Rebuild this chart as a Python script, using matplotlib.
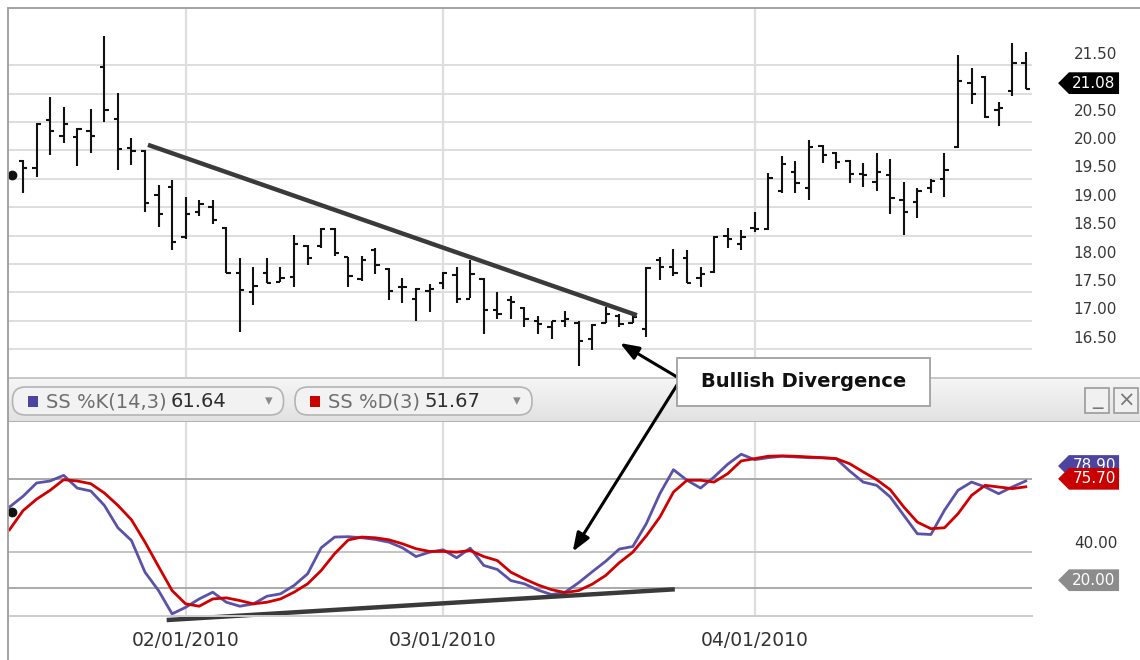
import numpy as np
import pandas as pd
import matplotlib
matplotlib.use("Agg")
import matplotlib.pyplot as plt
from matplotlib.path import Path
from matplotlib.patches import FancyBboxPatch, Rectangle, ConnectionPatch
from matplotlib.colors import LinearSegmentedColormap

# trading days shown (Jan 13 - Apr 30, 2010)
holidays = ["2010-01-18", "2010-02-15", "2010-04-02"]
dates = pd.bdate_range("2010-01-13", "2010-04-30")
dates = dates[~dates.isin(pd.to_datetime(holidays))]

opens = [19.82, 19.70, 20.54, 20.26, 20.24, 20.34, 21.47, 20.56, 20.05, 19.99,
         19.22, 19.35, 18.48, 18.91, 19.01, 18.63, 17.84, 17.51, 17.84, 17.69,
         17.78, 18.32, 18.31, 18.61, 18.12, 17.73, 18.24, 17.91, 17.59, 17.38,
         17.53, 17.66, 17.80, 17.39, 17.73, 17.19, 17.37, 17.22, 17.00, 16.89,
         17.00, 16.97, 16.68, 16.96, 17.08, 16.97, 16.86, 18.07, 17.95, 18.10,
         17.75, 17.86, 18.49, 18.36, 18.63, 18.61, 19.28, 19.63, 19.34, 20.08,
         19.95, 19.81, 19.59, 19.45, 19.57, 19.13, 19.10, 19.34, 19.49, 20.06,
         21.19, 21.29, 20.71, 21.04, 21.54]
highs = [19.84, 20.48, 20.95, 20.76, 20.39, 20.73, 22.01, 21.02, 20.22, 20.01,
         19.39, 19.48, 19.19, 19.13, 19.13, 18.66, 18.10, 17.95, 18.10, 17.95,
         18.51, 18.34, 18.63, 18.64, 18.13, 18.14, 18.29, 17.93, 17.76, 17.58,
         17.65, 17.86, 17.95, 18.08, 17.76, 17.50, 17.44, 17.24, 17.09, 17.00,
         17.18, 17.00, 16.94, 17.25, 17.12, 17.13, 17.94, 18.13, 18.26, 18.25,
         17.95, 18.49, 18.63, 18.60, 18.92, 19.60, 19.91, 19.81, 20.19, 20.10,
         19.98, 19.84, 19.78, 19.95, 19.85, 19.44, 19.34, 19.49, 19.95, 21.69,
         21.45, 21.32, 20.86, 21.89, 21.73]
lows = [19.25, 19.54, 19.92, 20.13, 19.72, 19.95, 20.51, 19.66, 19.74, 18.92,
        18.66, 18.25, 18.45, 18.84, 18.71, 17.84, 16.81, 17.28, 17.66, 17.68,
        17.60, 17.98, 18.29, 18.14, 17.59, 17.70, 17.82, 17.37, 17.32, 16.99,
        17.15, 17.56, 17.32, 17.41, 16.77, 17.03, 17.03, 16.89, 16.77, 16.68,
        16.89, 16.21, 16.48, 16.96, 16.89, 16.96, 16.72, 17.72, 17.79, 17.67,
        17.60, 17.84, 18.28, 18.25, 18.57, 18.60, 19.25, 19.25, 19.13, 19.78,
        19.67, 19.42, 19.36, 19.28, 18.89, 18.51, 18.82, 19.25, 19.19, 20.04,
        20.81, 20.57, 20.44, 20.96, 21.08]
closes = [19.70, 20.47, 20.34, 20.46, 20.38, 20.26, 20.71, 20.03, 19.99, 19.08,
          18.89, 18.39, 18.89, 19.06, 18.78, 17.84, 17.54, 17.61, 17.66, 17.75,
          18.35, 18.11, 18.61, 18.20, 17.79, 18.08, 17.99, 17.53, 17.60, 17.56,
          17.57, 17.85, 17.39, 17.83, 17.19, 17.13, 17.33, 17.03, 16.94, 16.99,
          17.03, 16.65, 16.92, 17.13, 16.95, 17.07, 17.93, 17.95, 17.84, 17.67,
          17.82, 18.48, 18.45, 18.48, 18.61, 19.51, 19.76, 19.42, 20.07, 19.92,
          19.79, 19.59, 19.57, 19.63, 19.16, 18.91, 19.29, 19.46, 19.65, 21.23,
          21.00, 20.59, 20.75, 21.54, 21.08]

# slow stochastic; first value belongs to the day before Jan 13
pct_k = [64.6, 70.5, 77.8, 78.9, 82.0, 75.0, 73.4, 65.5, 53.2, 46.2, 28.8,
         18.7, 5.9, 9.5, 14.1, 17.8, 12.3, 10.1, 11.4, 15.6, 16.9,
         21.5, 27.9, 42.2, 48.1, 48.3, 47.7, 46.8, 45.3, 42.2, 37.4,
         39.8, 41.1, 36.7, 42.0, 32.5, 30.3, 24.2, 22.4, 19.0, 16.5,
         17.8, 23.0, 29.0, 34.8, 41.5, 42.9, 55.5, 72.0, 85.1, 79.3,
         75.0, 81.1, 88.1, 93.6, 90.6, 91.7, 92.5, 92.1, 91.7, 91.6,
         91.2, 84.4, 78.3, 76.5, 70.1, 60.0, 49.9, 49.5, 62.8, 73.8,
         78.3, 75.6, 71.9, 75.6, 78.9]
pct_d = [52.1, 62.6, 68.9, 73.8, 79.6, 78.9, 77.4, 72.3, 65.5, 57.6, 45.3,
         31.9, 18.7, 11.4, 10.1, 14.1, 14.7, 13.2, 11.4, 12.3, 14.1,
         17.8, 22.4, 29.7, 39.0, 46.5, 48.1, 47.7, 46.6, 44.4, 41.7,
         40.2, 40.2, 39.8, 40.7, 37.4, 35.2, 28.8, 25.1, 21.8, 19.2,
         17.6, 18.7, 22.2, 27.0, 34.0, 39.8, 48.8, 59.1, 72.8, 79.3,
         79.3, 78.3, 82.9, 89.9, 91.2, 92.5, 92.7, 92.5, 92.1, 91.7,
         91.2, 88.4, 83.9, 79.6, 74.1, 64.6, 56.3, 52.7, 53.2, 60.9,
         71.0, 76.5, 75.6, 74.7, 75.7]
legend_k_value = "61.64"
legend_d_value = "51.67"

price_grid = [16.5, 17.0, 17.5, 18.0, 18.5, 19.0, 19.5, 20.0, 20.5, 21.0, 21.5]
price_hidden = [21.0]          # covered by the last-price tag
stoch_refs = [80, 20]
stoch_grid = [40]

# hand drawn trend lines (bar index, value)
price_trend_x = [9.22, 45.3]
price_trend_y = [20.10, 17.10]
stoch_trend_x = [10.6, 48.1]
stoch_trend_y = [2.5, 19.4]
price_arrow_tip = (44.05, 16.61)
stoch_arrow_tip = (40.56, 40.05)
price_cursor = (-0.83, 19.57)
stoch_cursor = (-0.83, 62.0)

W, H = 1140, 660
fig = plt.figure(figsize=(W / 100, H / 100), dpi=100)


def px_rect(x0, y0, x1, y1):
    return [x0 / W, 1 - y1 / H, (x1 - x0) / W, (y1 - y0) / H]


def pointer_style(x0, y0, width, height, mutation_size):
    pad = 0.22 * mutation_size
    x0, y0 = x0 - pad, y0 - pad
    x1, y1 = x0 + width + 2 * pad, y0 + height + 2 * pad
    ym = (y0 + y1) / 2
    tip = (y1 - y0) / 2
    return Path([(x0 - tip, ym), (x0, y0), (x1, y0), (x1, y1),
                 (x0, y1), (x0 - tip, ym)], closed=True)


x = np.arange(len(dates))
xs = np.arange(-1, len(dates))
month_idx = [i for i in range(1, len(dates)) if dates[i].month != dates[i - 1].month]
month_labels = [dates[i].strftime("%m/%d/%Y") for i in month_idx]
xlim = (-1.11, 74.46)

ax1 = fig.add_axes(px_rect(8, 8, 1032, 377))
ax2 = fig.add_axes(px_rect(8, 422, 1032, 616))
axb = fig.add_axes(px_rect(8, 377, 1140, 422))

grid_c = "#dedede"

# ---- price panel
ax1.set_xlim(*xlim)
ax1.set_ylim(16.012, 22.509)
for p in price_grid:
    ax1.axhline(p, color=grid_c, lw=1.4, zorder=0)
for i in month_idx:
    ax1.axvline(i, color=grid_c, lw=1.6, zorder=0)
ax1.vlines(x, lows, highs, color="#111111", lw=1.5)
ax1.hlines(opens, x - 0.32, x, color="#111111", lw=1.5)
ax1.hlines(closes, x, x + 0.32, color="#111111", lw=1.5)
ax1.plot(price_trend_x, price_trend_y, color="#3a3a3a", lw=3.2, solid_capstyle="butt")
ax1.plot(*price_cursor, "o", color="#111111", ms=6)
ax1.set_xticks([])
ax1.set_yticks([])
for s in ax1.spines.values():
    s.set_visible(False)
ytr = ax1.get_yaxis_transform()
for p in price_grid:
    if p in price_hidden:
        continue
    ax1.annotate(f"{p:.2f}", xy=(1, p), xycoords=ytr, xytext=(85, 11),
                 textcoords="offset pixels", ha="right", va="center",
                 fontsize=11, color="#383838", annotation_clip=False)
ax1.annotate(f"{closes[-1]:.2f}", xy=(1, closes[-1]), xycoords=ytr, xytext=(62, 6),
             textcoords="offset pixels", ha="center", va="center", fontsize=11,
             color="white", annotation_clip=False,
             bbox=dict(boxstyle=pointer_style, fc="black", ec="none"))

# ---- stochastic panel
ax2.set_xlim(*xlim)
ax2.set_ylim(4.73, 111.3)
for i in month_idx:
    ax2.axvline(i, color=grid_c, lw=1.6, zorder=0)
for v in stoch_refs:
    ax2.axhline(v, color="#a9a9a9", lw=1.4, zorder=0)
for v in stoch_grid:
    ax2.axhline(v, color="#c4c4c4", lw=1.4, zorder=0)
ax2.plot(xs, pct_k, color="#5a52a8", lw=2.0)
ax2.plot(xs, pct_d, color="#d00000", lw=2.0)
ax2.plot(stoch_trend_x, stoch_trend_y, color="#3a3a3a", lw=3.2,
         solid_capstyle="butt", clip_on=False)
ax2.plot(*stoch_cursor, "o", color="#111111", ms=6)
ax2.set_yticks([])
ax2.set_xticks(month_idx)
ax2.set_xticklabels(month_labels, fontsize=13.5, color="#333333")
ax2.tick_params(axis="x", length=0, pad=11)
for k, s in ax2.spines.items():
    s.set_visible(k == "bottom")
ax2.spines["bottom"].set_color("#cccccc")
ax2.spines["bottom"].set_linewidth(1.4)
ytr2 = ax2.get_yaxis_transform()
for v in stoch_grid:
    ax2.annotate(f"{v:.2f}", xy=(1, v), xycoords=ytr2, xytext=(86, 8),
                 textcoords="offset pixels", ha="right", va="center",
                 fontsize=11, color="#333333", annotation_clip=False)
for v in stoch_refs[1:]:
    ax2.annotate(f"{v:.2f}", xy=(1, v), xycoords=ytr2, xytext=(62, 8),
                 textcoords="offset pixels", ha="center", va="center",
                 fontsize=11, color="white", annotation_clip=False,
                 bbox=dict(boxstyle=pointer_style, fc="#8c8c8c", ec="none"))
# %K tag sits mostly behind the %D tag, as in the source chart
ax2.annotate(f"{pct_k[-1]:.2f}", xy=(1, pct_k[-1]), xycoords=ytr2, xytext=(62, 15),
             textcoords="offset pixels", ha="center", va="center", fontsize=11,
             color="white", annotation_clip=False,
             bbox=dict(boxstyle=pointer_style, fc="#4c44a0", ec="none"))
ax2.annotate(f"{pct_d[-1]:.2f}", xy=(1, pct_d[-1]), xycoords=ytr2, xytext=(62, 8),
             textcoords="offset pixels", ha="center", va="center", fontsize=11,
             color="white", annotation_clip=False,
             bbox=dict(boxstyle=pointer_style, fc="#c80000", ec="none"))

# ---- legend bar between panels (pixel units)
axb.set_xlim(0, 1132)
axb.set_ylim(45, 0)
axb.axis("off")
bar_cmap = LinearSegmentedColormap.from_list("bar", ["#f6f6f6", "#e2e2e2"])
axb.imshow(np.linspace(0, 1, 45)[:, None], extent=(0, 1132, 45, 0),
           cmap=bar_cmap, aspect="auto", zorder=0)
axb.axhline(0.5, color="#c0c0c0", lw=1.2)
axb.axhline(44.5, color="#a8a8a8", lw=1.2)

buttons = [
    (4.5, 271, "#4c44a0", "SS %K(14,3)", legend_k_value),
    (287, 237, "#c80000", "SS %D(3)", legend_d_value),
]
for bx, bw, col, name, val in buttons:
    axb.add_patch(FancyBboxPatch((bx, 10), bw, 28,
                                 boxstyle="round,pad=0,rounding_size=13",
                                 fc="#f2f2f2", ec="#b4b4b4", lw=1.2, zorder=2))
    axb.add_patch(Rectangle((bx + 15, 18.5), 10, 11, fc=col, ec="none", zorder=3))
    t = axb.text(bx + 33, 24.5, name, fontsize=14, color="#6e6e6e",
                 va="center", ha="left", zorder=3)
    axb.annotate(val, xycoords=t, xy=(1, 0.5), xytext=(4, 0),
                 textcoords="offset pixels", fontsize=14, color="#2e2e2e",
                 va="center", ha="left", zorder=3)
    axb.text(bx + bw - 15, 23.5, "\u25be", fontsize=11, color="#8a8a8a",
             va="center", ha="center", zorder=3)

for bx, sym in [(1077, "_"), (1106, "\u00d7")]:
    axb.add_patch(Rectangle((bx, 11), 24, 25, fc="#f0f0f0", ec="#9a9a9a", lw=1.2, zorder=2))
    axb.text(bx + 12, 22 if sym == "_" else 24, sym, fontsize=15, color="#777777",
             ha="center", va="center", zorder=3)

# ---- outer frame
fig.add_artist(Rectangle((8 / W, -0.1), 1.2, (H - 8) / H + 0.1, transform=fig.transFigure,
                         fill=False, ec="#9c9c9c", lw=1.3, zorder=1))

# ---- annotation
arrow_kw = dict(arrowstyle="-|>,head_length=0.8,head_width=0.3",
                mutation_scale=14, lw=2.2, color="black", zorder=5)
fig.add_artist(ConnectionPatch(xyA=(677 / W, 1 - 377 / H), coordsA=fig.transFigure,
                               xyB=price_arrow_tip, coordsB=ax1.transData, **arrow_kw))
fig.add_artist(ConnectionPatch(xyA=(677 / W, 1 - 385 / H), coordsA=fig.transFigure,
                               xyB=stoch_arrow_tip, coordsB=ax2.transData, **arrow_kw))
fig.add_artist(Rectangle((677 / W, 1 - 406 / H), 253 / W, 48 / H, transform=fig.transFigure,
                         fc="white", ec="#a0a0a0", lw=1.3, zorder=6))
fig.text(803.5 / W, 1 - 382 / H, "Bullish Divergence", ha="center", va="center",
         fontsize=14, fontweight="bold", color="#111111", zorder=7)

fig.savefig("out.png", dpi=100)
